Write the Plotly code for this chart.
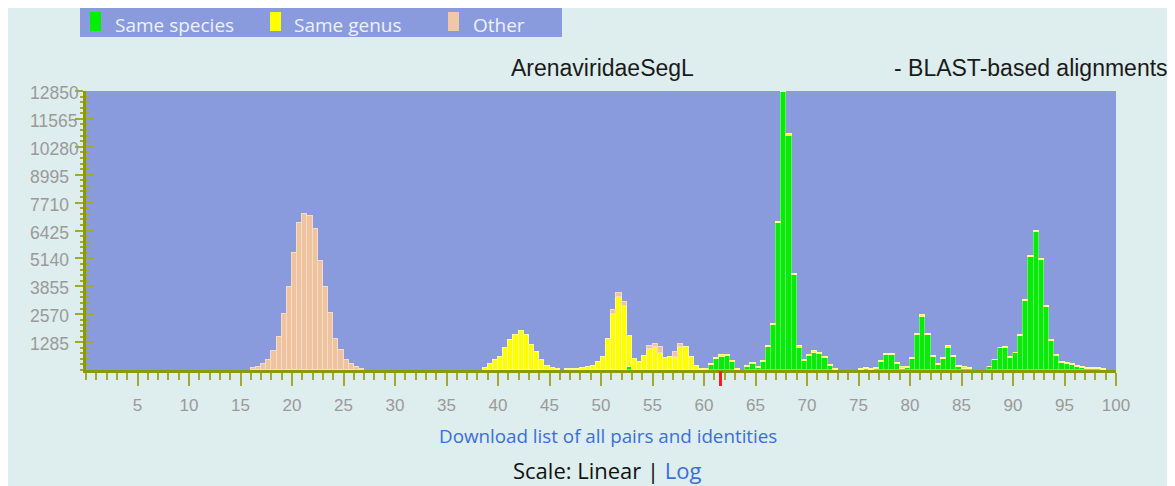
import plotly.graph_objects as go

# ---------------- data (bin start of 0.5 %-identity bins, pair counts) ----------------
species_x = [52.5, 60.5, 61.0, 61.5, 62.0, 62.5, 64.0, 64.5, 65.0, 65.5, 66.0, 66.5,
             67.0, 67.5, 68.0, 68.5, 69.0, 69.5, 70.0, 70.5, 71.0, 71.5, 72.0,
             75.5, 76.5, 77.0, 77.5, 78.0, 78.5, 79.0, 79.5, 80.0, 80.5, 81.0, 81.5,
             82.0, 82.5, 83.0, 83.5, 84.0, 84.5, 85.0, 85.5,
             87.5, 88.0, 88.5, 89.0, 89.5, 90.0, 90.5, 91.0, 91.5, 92.0, 92.5, 93.0,
             93.5, 94.0, 94.5, 95.0, 95.5, 96.0, 96.5, 97.0, 97.5, 98.0]
species_n = [150, 230, 500, 620, 650, 350, 120, 270, 80, 360, 1050, 2075,
             6755, 12790, 10790, 4360, 1035, 420, 650, 805, 740, 535, 180,
             40, 40, 360, 670, 670, 290, 60, 90, 490, 1610, 2440, 1610,
             595, 210, 500, 1030, 595, 140, 60, 40,
             120, 445, 1000, 1030, 570, 770, 1560, 3160, 5200, 6350, 5080, 2910,
             1320, 625, 320, 270, 210, 150, 90, 60, 60, 40]

genus_x = [38.5, 39.0, 39.5, 40.0, 40.5, 41.0, 41.5, 42.0, 42.5, 43.0, 43.5, 44.0,
           44.5, 45.0, 45.5, 46.5, 47.0, 47.5, 48.0, 48.5, 49.0, 49.5, 50.0, 50.5,
           51.0, 51.5, 52.0, 52.5, 53.0, 53.5, 54.0, 54.5, 55.0, 55.5, 56.0, 56.5,
           57.0, 57.5, 58.0, 58.5, 59.0, 59.5, 60.0, 60.5, 61.0, 61.5, 62.0, 62.5,
           63.0, 64.0, 64.5, 65.0, 65.5, 66.0, 66.5, 67.0, 67.5, 68.0, 68.5, 69.0,
           69.5, 70.0, 70.5, 71.0, 71.5, 72.0, 72.5, 75.0, 75.5, 76.0, 76.5, 77.0,
           77.5, 78.0, 78.5, 79.0, 79.5, 80.0, 80.5, 81.0, 81.5, 82.0, 82.5, 83.0,
           83.5, 84.0, 84.5, 85.0, 85.5, 87.5, 88.0, 88.5, 89.0, 89.5, 90.0, 90.5,
           91.0, 91.5, 92.0, 92.5, 93.0, 93.5, 94.0, 94.5, 95.0, 95.5, 96.0, 96.5,
           97.0, 97.5, 98.0, 98.5]
genus_n = [92, 276, 476, 614, 1013, 1381, 1627, 1811, 1627, 1166, 813, 460,
           200, 77, 30, 46, 61, 46, 92, 153, 200, 353, 614, 1428,
           2579, 3346, 2963, 1430, 507, 353, 660, 970, 1050, 800, 553, 583,
           614, 1047, 1075, 614, 200, 46, 60, 46, 50, 55, 55, 50,
           46, 50, 50, 50, 55, 55, 55, 60, 60, 60, 60, 55,
           55, 55, 55, 60, 50, 50, 46, 60, 50, 30, 50, 50,
           50, 50, 50, 60, 50, 60, 60, 75, 60, 50, 50, 50,
           60, 50, 60, 80, 50, 20, 30, 30, 30, 30, 30, 40,
           50, 50, 50, 50, 50, 50, 50, 50, 50, 50, 50, 50,
           50, 50, 50, 46]

other_x = [16.0, 16.5, 17.0, 17.5, 18.0, 18.5, 19.0, 19.5, 20.0, 20.5, 21.0, 21.5,
           22.0, 22.5, 23.0, 23.5, 24.0, 24.5, 25.0, 25.5, 26.0, 26.5,
           51.0, 51.5, 52.0, 54.5, 55.0, 55.5, 57.0, 57.5]
other_n = [100, 150, 280, 460, 875, 1505, 2580, 3810, 5375, 6755, 7185, 7090,
           6480, 5035, 3840, 2610, 1443, 937, 460, 276, 123, 40,
           184, 184, 153, 150, 150, 250, 200, 150]

series_names = ["Same species", "Same genus", "Other"]
x_ticks = [5, 10, 15, 20, 25, 30, 35, 40, 45, 50, 55, 60, 65, 70, 75, 80, 85, 90, 95, 100]
y_ticks = [1285, 2570, 3855, 5140, 6425, 7710, 8995, 10280, 11565, 12850]
threshold_x = [61.6]
bin_width = 0.5

# ---------------- geometry / styles ----------------
W, H = 1175, 486
OFF = 8                      # page body margin of the html page
L, T = 78, 83
PW, PH = 1030, 279
R = W - L - PW
B = H - T - PH

def pxx(px):                 # page pixel x -> paper x
    return (px - OFF - L) / PW

def pxy(py):                 # page pixel y -> paper y
    return (T + PH - (py - OFF)) / PH

PAPER = "#deeded"
PLOTBG = "#8a9bdd"
AXIS = "#8c9a08"
TICK = "#a3a832"
GREEN, GREEN_E = "#0aea0a", "#5cf55c"
YELLOW, YELLOW_E = "#ffff00", "#ffff90"
TAN, TAN_E = "#eec4a0", "#f6dcc4"
LABEL = "#9a9a9a"

fig = go.Figure()
for name, xs, ns, col, edge in [
    (series_names[0], species_x, species_n, GREEN, GREEN_E),
    (series_names[1], genus_x, genus_n, YELLOW, YELLOW_E),
    (series_names[2], other_x, other_n, TAN, TAN_E),
]:
    fig.add_trace(go.Bar(
        x=xs, y=ns, name=name, width=bin_width, offset=0,
        marker=dict(color=col, line=dict(color=edge, width=1)),
        showlegend=False,
    ))

# invisible trace that carries the inner half of the y ticks
fig.add_trace(go.Scatter(x=[None], y=[None], yaxis="y2", showlegend=False,
                         hoverinfo="skip"))

fig.update_layout(
    width=W, height=H,
    margin=dict(l=L, r=R, t=T, b=B, pad=0),
    paper_bgcolor=PAPER, plot_bgcolor=PLOTBG,
    barmode="stack", bargap=0,
    showlegend=False,
    xaxis=dict(
        range=[0, 100], tickmode="array", tickvals=x_ticks,
        ticktext=[str(v) for v in x_ticks],
        ticks="outside", ticklen=13, tickwidth=2, tickcolor=TICK,
        ticklabelstandoff=5,
        minor=dict(tickmode="linear", tick0=0, dtick=1, ticks="outside",
                   ticklen=7, tickwidth=2, tickcolor=TICK, showgrid=False),
        showline=True, linewidth=3, linecolor=AXIS,
        showgrid=False, zeroline=False,
        tickfont=dict(family="Liberation Sans, Arial", size=17, color=LABEL),
    ),
    yaxis=dict(
        range=[0, 12850], tickmode="array", tickvals=y_ticks,
        showticklabels=False,
        ticks="outside", ticklen=8, tickwidth=2, tickcolor=TICK,
        minor=dict(tickmode="linear", tick0=0, dtick=257, ticks="outside",
                   ticklen=3, tickwidth=1.5, tickcolor=TICK, showgrid=False),
        showline=True, linewidth=3, linecolor=AXIS,
        showgrid=False, zeroline=False,
    ),
    yaxis2=dict(
        overlaying="y", anchor="x", side="left",
        range=[0, 12850], tickmode="array", tickvals=y_ticks,
        showticklabels=False,
        ticks="inside", ticklen=8, tickwidth=2, tickcolor=TICK,
        minor=dict(tickmode="linear", tick0=0, dtick=257, ticks="inside",
                   ticklen=3, tickwidth=1.5, tickcolor=TICK, showgrid=False),
        showline=False, showgrid=False, zeroline=False,
    ),
)

shapes = []
annotations = []

# y tick labels, left aligned like the original
for v in y_ticks:
    annotations.append(dict(
        xref="paper", yref="y", x=pxx(28), y=v, xanchor="left", yanchor="middle",
        yshift=-2, text=str(v), showarrow=False,
        font=dict(family="Liberation Sans, Arial", size=17.5, color=LABEL)))

# threshold marker under the axis
for tx in threshold_x:
    shapes.append(dict(type="line", xref="x", yref="paper", x0=tx, x1=tx,
                       y0=pxy(371), y1=pxy(386), line=dict(color="#ff1a1a", width=3)))

# title
annotations.append(dict(xref="paper", yref="paper", x=pxx(602), y=pxy(68),
                        xanchor="center", yanchor="middle", showarrow=False,
                        text="ArenaviridaeSegL",
                        font=dict(family="Liberation Sans, Arial", size=23, color="#1a1a1a")))
annotations.append(dict(xref="paper", yref="paper", x=pxx(892), y=pxy(68),
                        xanchor="left", yanchor="middle", showarrow=False,
                        text="- BLAST-based alignments",
                        font=dict(family="Liberation Sans, Arial", size=23, color="#1a1a1a")))

# legend box
shapes.append(dict(type="rect", xref="paper", yref="paper", x0=pxx(80), x1=pxx(562),
                   y0=pxy(37), y1=pxy(8), fillcolor=PLOTBG, line=dict(width=0),
                   layer="above"))
for (sx, tx), name, col in zip([(90, 113), (270, 292), (448, 471)], series_names,
                               ["#00ee00", "#ffff00", "#f0c8a2"]):
    shapes.append(dict(type="rect", xref="paper", yref="paper", x0=pxx(sx), x1=pxx(sx + 11),
                       y0=pxy(31), y1=pxy(12), fillcolor=col, line=dict(width=0),
                       layer="above"))
    annotations.append(dict(xref="paper", yref="paper", x=pxx(tx), y=pxy(25),
                            xanchor="left", yanchor="middle", showarrow=False, text=name,
                            font=dict(family="Open Sans", size=19, color="#eef1fb")))

# bottom texts
annotations.append(dict(xref="paper", yref="paper", x=pxx(608), y=pxy(436),
                        xanchor="center", yanchor="middle", showarrow=False,
                        text="Download list of all pairs and identities",
                        font=dict(family="Open Sans", size=18.8, color="#3a6fd8")))
annotations.append(dict(xref="paper", yref="paper", x=pxx(607), y=pxy(470),
                        xanchor="center", yanchor="middle", showarrow=False,
                        text="Scale: Linear | <span style='color:#3a6fd8'>Log</span>",
                        font=dict(family="Open Sans", size=22, color="#111111")))

fig.update_layout(shapes=shapes, annotations=annotations)
fig.write_html("out.html")
